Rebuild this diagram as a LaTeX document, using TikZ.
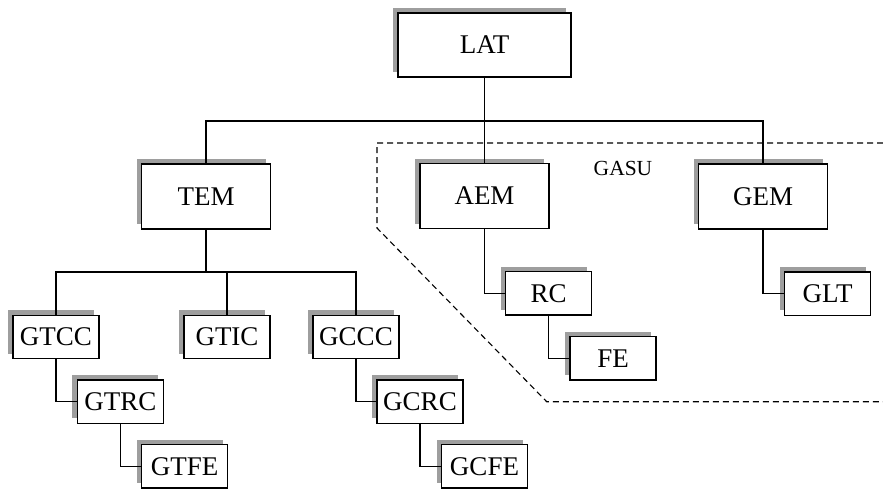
\documentclass[tikz,border=0pt]{standalone}
\usepackage{fontspec}
\setmainfont{Liberation Serif}
\usetikzlibrary{calc,shadows}
\begin{document}
\begin{tikzpicture}[x=1pt,y=-1pt,
  unit/.style={draw=black, line width=1.2pt, fill=white, inner sep=0pt,
    font=\fontsize{27}{30}\selectfont,
    general shadow={fill=black!38, shadow xshift=-5pt, shadow yshift=5pt}},
  bigbox/.style={unit, minimum width=129pt, minimum height=65pt},
  topbox/.style={unit, minimum width=173pt, minimum height=64pt},
  smallbox/.style={unit, minimum width=86pt, minimum height=43.5pt},
  link/.style={draw=black, line width=1.1pt},
  group/.style={draw=black, line width=1.1pt, dash pattern=on 6pt off 4pt}]
\useasboundingbox (0,0) rectangle (883,488);

% GASU group outline
\coordinate (g1) at (883,143);
\coordinate (g2) at (377,143);
\coordinate (g3) at (377,228);
\coordinate (g4) at (546.7,401.7);
\coordinate (g5) at (883,401.7);
\draw[group] (g1) -- (g2) -- (g3) -- (g4) -- (g5);
\node[font=\fontsize{21.5}{24}\selectfont] (gasu) at (623,168) {GASU};

% units
\node[topbox] (LAT) at (484.5,45) {LAT};
\node[bigbox] (TEM) at (206,196.5) {TEM};
\node[bigbox] (AEM) at (484.5,196) {AEM};
\node[bigbox] (GEM) at (763,196.5) {GEM};

\node[smallbox] (GTCC) at (56,337) {GTCC};
\node[smallbox] (GTIC) at (227,337) {GTIC};
\node[smallbox] (GCCC) at (356,337) {GCCC};
\node[smallbox] (GTRC) at (120.3,401.7) {GTRC};
\node[smallbox] (GTFE) at (184.7,466.3) {GTFE};
\node[smallbox] (GCRC) at (420,401.7) {GCRC};
\node[smallbox] (GCFE) at (484.5,466.3) {GCFE};
\node[smallbox] (RC) at (548.7,293.3) {RC};
\node[smallbox] (FE) at (613,358.3) {FE};
\node[smallbox] (GLT) at (827.5,293.7) {GLT};

% bus lines
\coordinate (bus) at (484.5,121);
\coordinate (tbus) at (206,272);

\draw[link] (LAT.south) -- (AEM.north);
\draw[link] (TEM.north) |- (bus) -| (GEM.north);
\draw[link] (TEM.south) -- (tbus);
\draw[link] (GTCC.north) |- (tbus) -| (GCCC.north);
\draw[link] (GTIC.north) -- (GTIC.north |- tbus);

% descending chains
\draw[link] (GTCC.south) |- (GTRC.west);
\draw[link] (GTRC.south) |- (GTFE.west);
\draw[link] (GCCC.south) |- (GCRC.west);
\draw[link] (GCRC.south) |- (GCFE.west);
\draw[link] (AEM.south) |- (RC.west);
\draw[link] (RC.south) |- (FE.west);
\draw[link] (GEM.south) |- (GLT.west);
\end{tikzpicture}
\end{document}
